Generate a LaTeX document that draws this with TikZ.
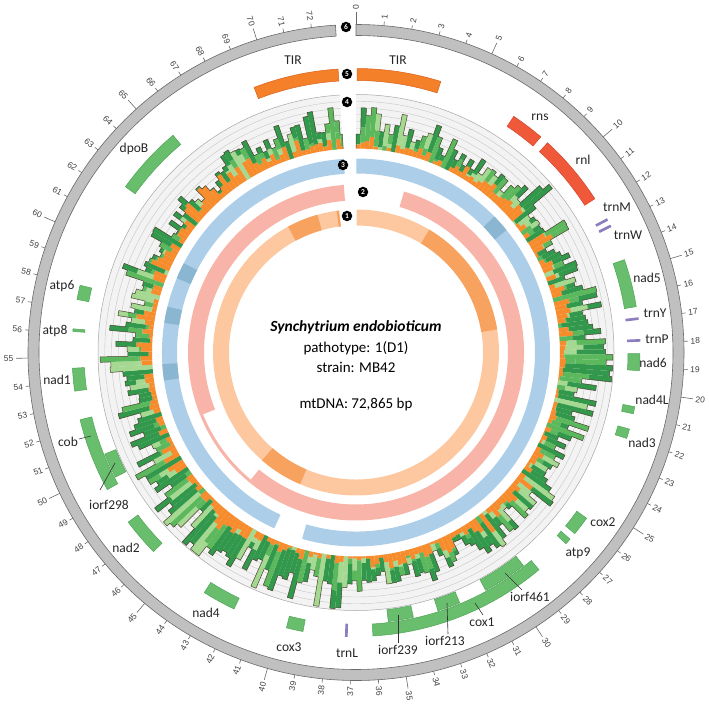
\documentclass[tikz,border=0pt]{standalone}
\usepackage{fontspec}
\setmainfont{Carlito}
\newfontfamily\tickfont{Liberation Sans}
\definecolor{ringgray}{RGB}{192,192,192}
\definecolor{ringline}{RGB}{105,105,105}
\definecolor{tirc}{RGB}{245,128,42}
\definecolor{tirl}{RGB}{215,100,30}
\definecolor{rrnac}{RGB}{240,88,58}
\definecolor{rrnal}{RGB}{210,70,45}
\definecolor{genec}{RGB}{104,190,108}
\definecolor{genel}{RGB}{80,165,88}
\definecolor{trnc}{RGB}{140,125,190}
\definecolor{hbg}{RGB}{243,243,243}
\definecolor{hgrid}{RGB}{198,198,198}
\definecolor{horange}{RGB}{247,140,45}
\definecolor{hdark}{RGB}{50,152,75}
\definecolor{hmid}{RGB}{92,184,92}
\definecolor{hlight}{RGB}{165,216,145}
\definecolor{hline}{RGB}{75,65,48}
\definecolor{blueA}{RGB}{172,206,232}
\definecolor{blueB}{RGB}{138,182,210}
\definecolor{pinkA}{RGB}{248,180,168}
\definecolor{peachA}{RGB}{253,200,160}
\definecolor{peachB}{RGB}{248,162,95}
\newcommand\gsect[5]{%
  \pgfmathsetmacro\angA{90-(#2)*4.8913}%
  \pgfmathsetmacro\angB{90-(#3)*4.8913}%
  \path[#1] (\angA:#5) arc[start angle=\angA, end angle=\angB, radius=#5] -- (\angB:#4) arc[start angle=\angB, end angle=\angA, radius=#4] -- cycle;}
\tikzset{
  gene/.style={fill=genec, draw=genel, line width=0.5pt},
  rrna/.style={fill=rrnac, draw=rrnal, line width=0.5pt},
  tir/.style={fill=tirc, draw=tirl, line width=0.5pt},
  trna/.style={fill=trnc, draw=trnc, line width=1.2pt},
  glabel/.style={font=\fontsize{13.5}{15}\selectfont, text=black!85, inner sep=1pt},
  leader/.style={draw=black!80, line width=0.6pt},
  numc/.style={circle, fill=black, text=white, font=\fontsize{7.5}{8}\selectfont\bfseries, inner sep=0pt, minimum size=10.5pt},
  ticklab/.style={font=\tickfont\fontsize{8.5}{9}\selectfont, text=black!75, inner sep=0.5pt},
  tickline/.style={draw=ringline, line width=0.6pt}
}
\begin{document}
\begin{tikzpicture}[x=1pt,y=1pt]
\useasboundingbox (0,0) rectangle (709,705);
\begin{scope}[shift={(356,352.5)}]
% ---- outer ring (6)
\gsect{fill=ringgray, draw=ringline, line width=0.6pt}{0}{72.865}{317}{328}
\foreach \k in {0,...,72}{
  \pgfmathsetmacro\tkA{90-\k*4.8913}
  \pgfmathsetmacro\tkL{mod(\k,5)==0 ? 12 : 4}
  \pgfmathsetmacro\tkE{328+\tkL}
  \pgfmathsetmacro\tkR{\tkE+2}
  \draw[tickline] (\tkA:328) -- (\tkA:\tkE);
  \pgfmathsetmacro\tkC{cos(\tkA)}
  \ifdim\tkC pt<-0.001pt
    \pgfmathsetmacro\tkRot{\tkA+180}
    \node[ticklab, rotate=\tkRot, anchor=east] (tk\k) at (\tkA:\tkR) {\k};
  \else
    \node[ticklab, rotate=\tkA, anchor=west] (tk\k) at (\tkA:\tkR) {\k};
  \fi
}
% ---- feature track (5)
\gsect{tir}{69.3}{72.86}{272}{284}
\gsect{tir}{0.05}{3.55}{272}{284}
\gsect{rrna}{6.9}{8.3}{272}{284}
\gsect{rrna}{8.67}{11.7}{272}{284}
\gsect{trna}{12.67}{12.73}{272}{284}
\gsect{trna}{12.97}{13.03}{272}{284}
\gsect{gene}{14.5}{16.5}{272}{284}
\gsect{trna}{16.97}{17.03}{272}{284}
\gsect{trna}{17.87}{17.93}{272}{284}
\gsect{gene}{18.45}{19.15}{272}{284}
\gsect{gene}{20.65}{20.95}{272}{284}
\gsect{gene}{21.6}{22.0}{272}{284}
\gsect{gene}{25.7}{26.5}{272}{284}
\gsect{gene}{26.8}{27.05}{272}{284}
\gsect{gene}{28.6}{36.1}{272}{284}
\gsect{trna}{37.17}{37.23}{272}{284}
\gsect{gene}{39.0}{39.7}{272}{284}
\gsect{gene}{42.0}{43.4}{272}{284}
\gsect{gene}{46.1}{47.7}{272}{284}
\gsect{gene}{49.3}{52.4}{272}{284}
\gsect{gene}{53.6}{54.55}{272}{284}
\gsect{gene}{56.07}{56.18}{272}{284}
\gsect{gene}{57.4}{58.0}{272}{284}
\gsect{gene}{62.5}{65.4}{272}{284}
\gsect{gene}{29.0}{30.95}{259}{271}
\gsect{gene}{32.2}{33.2}{259}{271}
\gsect{gene}{34.3}{35.4}{259}{271}
\gsect{gene}{49.6}{50.7}{259}{271}
% ---- histogram (4)
\gsect{fill=hbg}{0}{72.86}{204}{258}
\foreach \gr in {210.75,217.5,224.25,231,237.75,244.5,251.25}{
  \draw[hgrid, line width=0.4pt] (90:\gr) arc[start angle=90, end angle=-266.4, radius=\gr];
}
\draw[black!35, line width=0.5pt] (90:258) arc[start angle=90, end angle=-266.4, radius=258];
\pgfmathsetseed{23}
\xdef\prevh{204}
\xdef\prevHt{25}
\foreach \i in {0,...,291}{
  \pgfmathsetmacro\hka{\i*0.25}
  \pgfmathsetmacro\hkb{min(\hka+0.25,72.86)}
  \pgfmathsetmacro\hA{90-\hka*4.8913}
  \pgfmathsetmacro\hB{90-\hkb*4.8913}
  \pgfmathtruncatemacro\hreg{floor(\hka/3)}
  \pgfmathsetmacro\hamp{{0.95,0.75,0.65,0.85,0.65,0.9,0.95,0.9,0.75,0.65,0.6,0.6,0.95,1.0,0.9,0.9,0.8,0.9,0.9,0.7,0.55,0.5,0.6,0.7,0.85}[\hreg]}
  \pgfmathsetmacro\hofr{{0.2,0.35,0.45,0.35,0.4,0.3,0.1,0.15,0.3,0.45,0.45,0.4,0.15,0.15,0.3,0.15,0.3,0.25,0.3,0.4,0.6,0.7,0.6,0.4,0.3}[\hreg]}
  \pgfmathsetmacro\hnew{\hamp*(10+58*rnd^1.1)}
  \pgfmathsetmacro\hH{min(0.3*\prevHt+0.7*\hnew,53)}
  \pgfmathsetmacro\hO{rnd<0.2 ? 0 : min(\hH*\hofr*(0.4+1.1*rnd),\hH)}
  \pgfmathsetmacro\hL{rnd<0.45 ? 0 : (\hH-\hO)*0.6*rnd}
  \pgfmathsetmacro\hRa{204+\hO}
  \pgfmathsetmacro\hRb{\hRa+\hL}
  \pgfmathsetmacro\hRc{204+\hH}
  \pgfmathrandominteger\hcc{1}{2}
  \ifnum\hcc=1 \def\hlc{hlight}\else\def\hlc{hmid}\fi
  \pgfmathrandominteger\hct{1}{10}
  \ifnum\hct<7 \def\htc{hdark}\else\ifnum\hct<9 \def\htc{hmid}\else\def\htc{hlight}\fi\fi
  \gsect{fill=horange}{\hka}{\hkb}{204}{\hRa}
  \gsect{fill=\hlc}{\hka}{\hkb}{\hRa}{\hRb}
  \gsect{fill=\htc}{\hka}{\hkb}{\hRb}{\hRc}
  \draw[hline, line width=0.5pt] (\hA:\prevh) -- (\hA:\hRc) arc[start angle=\hA, end angle=\hB, radius=\hRc];
  \xdef\prevh{\hRc}
  \xdef\prevHt{\hH}
}
\draw[hline, line width=0.5pt] (-266.4:\prevh) -- (-266.4:204);
% ---- blue track (3)
\gsect{fill=blueA}{0.02}{40.1}{179}{194}
\gsect{fill=blueA}{41.9}{72.86}{179}{194}
\gsect{fill=blueB}{9.3}{10.4}{179}{194}
\gsect{fill=blueB}{53.5}{54.5}{179}{194}
\gsect{fill=blueB}{57.0}{58.0}{179}{194}
\gsect{fill=blueB}{59.8}{60.8}{179}{194}
% ---- pink track (2)
\gsect{fill=pinkA}{3.4}{44.9}{152}{168}
\gsect{fill=pinkA}{44.9}{50.7}{165}{168}
\gsect{fill=pinkA}{50.7}{72.75}{152}{168}
% ---- peach track (1)
\gsect{fill=peachA}{0.05}{72.2}{127}{143}
\gsect{fill=peachB}{6.3}{16.5}{127}{143}
\gsect{fill=peachB}{41.5}{45.2}{127}{143}
\gsect{fill=peachB}{67.8}{70.4}{127}{143}
\gsect{fill=peachB}{72.0}{72.2}{127}{143}
% ---- track numbers
\node[numc] (n1) at (-9,136.5) {1};
\node[numc] (n2) at (7,160.5) {2};
\node[numc] (n3) at (-13,187.5) {3};
\node[numc] (n4) at (-9,250.5) {4};
\node[numc] (n5) at (-9,278.5) {5};
\node[numc] (n6) at (-10,325.5) {6};
% ---- centre text
\node (title) at (0,25.5) {\fontsize{15.5}{18}\selectfont\bfseries\itshape Synchytrium endobioticum};
\node (patho) at (0,4.5) {\fontsize{15}{18}\selectfont pathotype: 1(D1)};
\node (strain) at (0,-14.5) {\fontsize{15}{18}\selectfont strain: MB42};
\node (mtdna) at (0,-52.5) {\fontsize{15}{18}\selectfont mtDNA: 72,865 bp};
% ---- gene labels
\node[glabel] (lTIRl) at (-63,292.5) {TIR};
\node[glabel] (lTIRr) at (42,292.5) {TIR};
\node[glabel] (lrns) at (184,235.5) {rns};
\node[glabel] (lrnl) at (227,192.5) {rnl};
\node[glabel] (ltrnM) at (261,145.5) {trnM};
\node[glabel] (ltrnW) at (272,117.5) {trnW};
\node[glabel] (lnad5) at (291,74.5) {nad5};
\node[glabel] (ltrnY) at (299,39.5) {trnY};
\node[glabel] (ltrnP) at (301,13.5) {trnP};
\node[glabel] (lnad6) at (297,-10.5) {nad6};
\node[glabel] (lnad4L) at (296,-47.5) {nad4L};
\node[glabel] (lnad3) at (286,-90.5) {nad3};
\node[glabel] (lcox2) at (247,-169.5) {cox2};
\node[glabel] (latp9) at (222,-200.5) {atp9};
\node[glabel] (liorf461) at (174,-244.5) {iorf461};
\node[glabel] (lcox1) at (126,-269.5) {cox1};
\node[glabel] (liorf213) at (89,-288.5) {iorf213};
\node[glabel] (liorf239) at (42,-297.5) {iorf239};
\node[glabel] (ltrnL) at (-9,-300.5) {trnL};
\node[glabel] (lcox3) at (-67,-294.5) {cox3};
\node[glabel] (lnad4) at (-150,-260.5) {nad4};
\node[glabel] (lnad2) at (-230,-195.5) {nad2};
\node[glabel] (liorf298) at (-247,-152.5) {iorf298};
\node[glabel] (lcob) at (-288,-89.5) {cob};
\node[glabel] (lnad1) at (-299,-27.5) {nad1};
\node[glabel] (latp8) at (-301,21.5) {atp8};
\node[glabel] (latp6) at (-294,66.5) {atp6};
\node[glabel] (ldpoB) at (-222,203.5) {dpoB};
% ---- leader lines
\coordinate (cobA) at (-265,-83.5); \coordinate (cobB) at (-277,-86.5);
\draw[leader] (cobA) -- (cobB);
\coordinate (i298A) at (-241,-110.5); \coordinate (i298B) at (-256,-137.5);
\draw[leader] (i298A) -- (i298B);
\coordinate (i461A) at (149,-220.5); \coordinate (i461B) at (166,-237.5);
\draw[leader] (i461A) -- (i461B);
\coordinate (cox1A) at (119,-250.5); \coordinate (cox1B) at (127,-262.5);
\draw[leader] (cox1A) -- (cox1B);
\coordinate (i213A) at (91,-250.5); \coordinate (i213B) at (92,-281.5);
\draw[leader] (i213A) -- (i213B);
\coordinate (i239A) at (42,-262.5); \coordinate (i239B) at (42,-290.5);
\draw[leader] (i239A) -- (i239B);
\end{scope}
\end{tikzpicture}
\end{document}
